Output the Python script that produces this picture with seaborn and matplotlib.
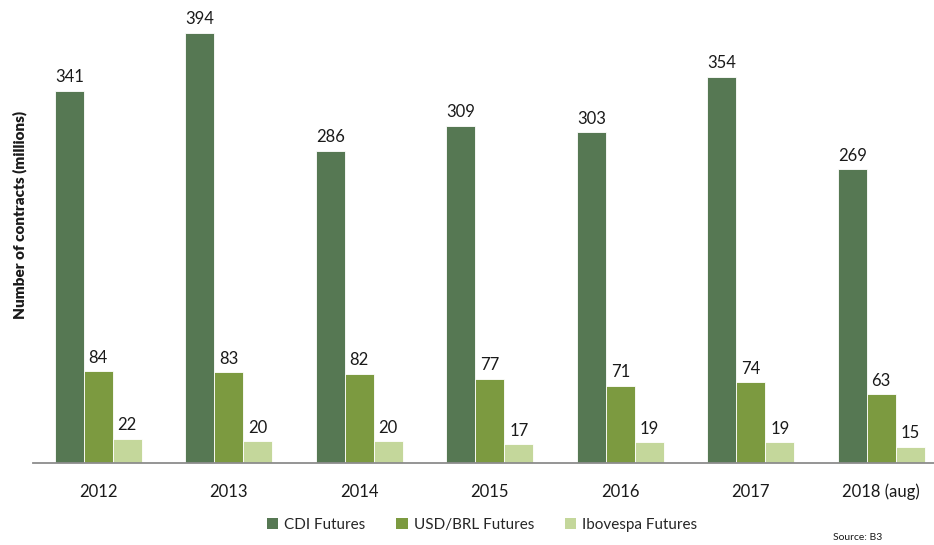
import matplotlib
matplotlib.use("Agg")
import matplotlib.pyplot as plt
import seaborn as sns
import pandas as pd
from matplotlib.patches import Patch

years = ["2012", "2013", "2014", "2015", "2016", "2017", "2018 (aug)"]
series = ["CDI Futures", "USD/BRL Futures", "Ibovespa Futures"]
cdi = [341, 394, 286, 309, 303, 354, 269]
usd_brl = [84, 83, 82, 77, 71, 74, 63]
ibovespa = [22, 20, 20, 17, 19, 19, 15]
colors = ["#567853", "#7C9A40", "#C4D79B"]

rows = []
for s, vals in zip(series, [cdi, usd_brl, ibovespa]):
    for y, v in zip(years, vals):
        rows.append({"Year": y, "Series": s, "Value": v})
df = pd.DataFrame(rows)

sns.set_theme(style="white")
plt.rcParams["font.family"] = ["Lato", "DejaVu Sans"]

fig = plt.figure(figsize=(9.34, 5.45), dpi=100)
ax = fig.add_axes([33 / 934, (545 - 463) / 545, 901 / 934, 463 / 545])

sns.barplot(data=df, x="Year", y="Value", hue="Series", order=years,
            hue_order=series, palette=colors, saturation=1, width=0.667, gap=0,
            edgecolor="white", linewidth=0.6, ax=ax, legend=False)

for c in ax.containers:
    ax.bar_label(c, fmt="%d", padding=4, fontsize=12, color="#1a1a1a")

ax.set_xlim(-0.5, -0.5 + 901 / 130.5)
ax.set_ylim(0, 463 / 1.0914)
ax.set_xlabel("")
ax.set_ylabel("")
ax.set_yticks([])
for sp in ["top", "right", "left"]:
    ax.spines[sp].set_visible(False)
ax.spines["bottom"].set_color("#8c8c8c")
ax.spines["bottom"].set_linewidth(1.3)
ax.tick_params(axis="x", length=0, pad=15, labelsize=12, labelcolor="#1a1a1a")

fig.text(20 / 934, 1 - 215 / 545, "Number of contracts (millions)", rotation=90,
         ha="center", va="center", fontsize=11, fontweight="heavy", color="#1a1a1a")

handles = [Patch(facecolor=c, edgecolor="none") for c in colors]
fig.legend(handles, series, loc="center", bbox_to_anchor=(482 / 934, 1 - 525 / 545),
           ncol=3, frameon=False, fontsize=11, handlelength=0.75, handleheight=0.75,
           handletextpad=0.4, columnspacing=2.0)

fig.text(858 / 934, 1 - 537 / 545, "Source: B3", ha="center", va="center",
         fontsize=7.5, color="#1a1a1a")

fig.savefig("out.png", dpi=100)
